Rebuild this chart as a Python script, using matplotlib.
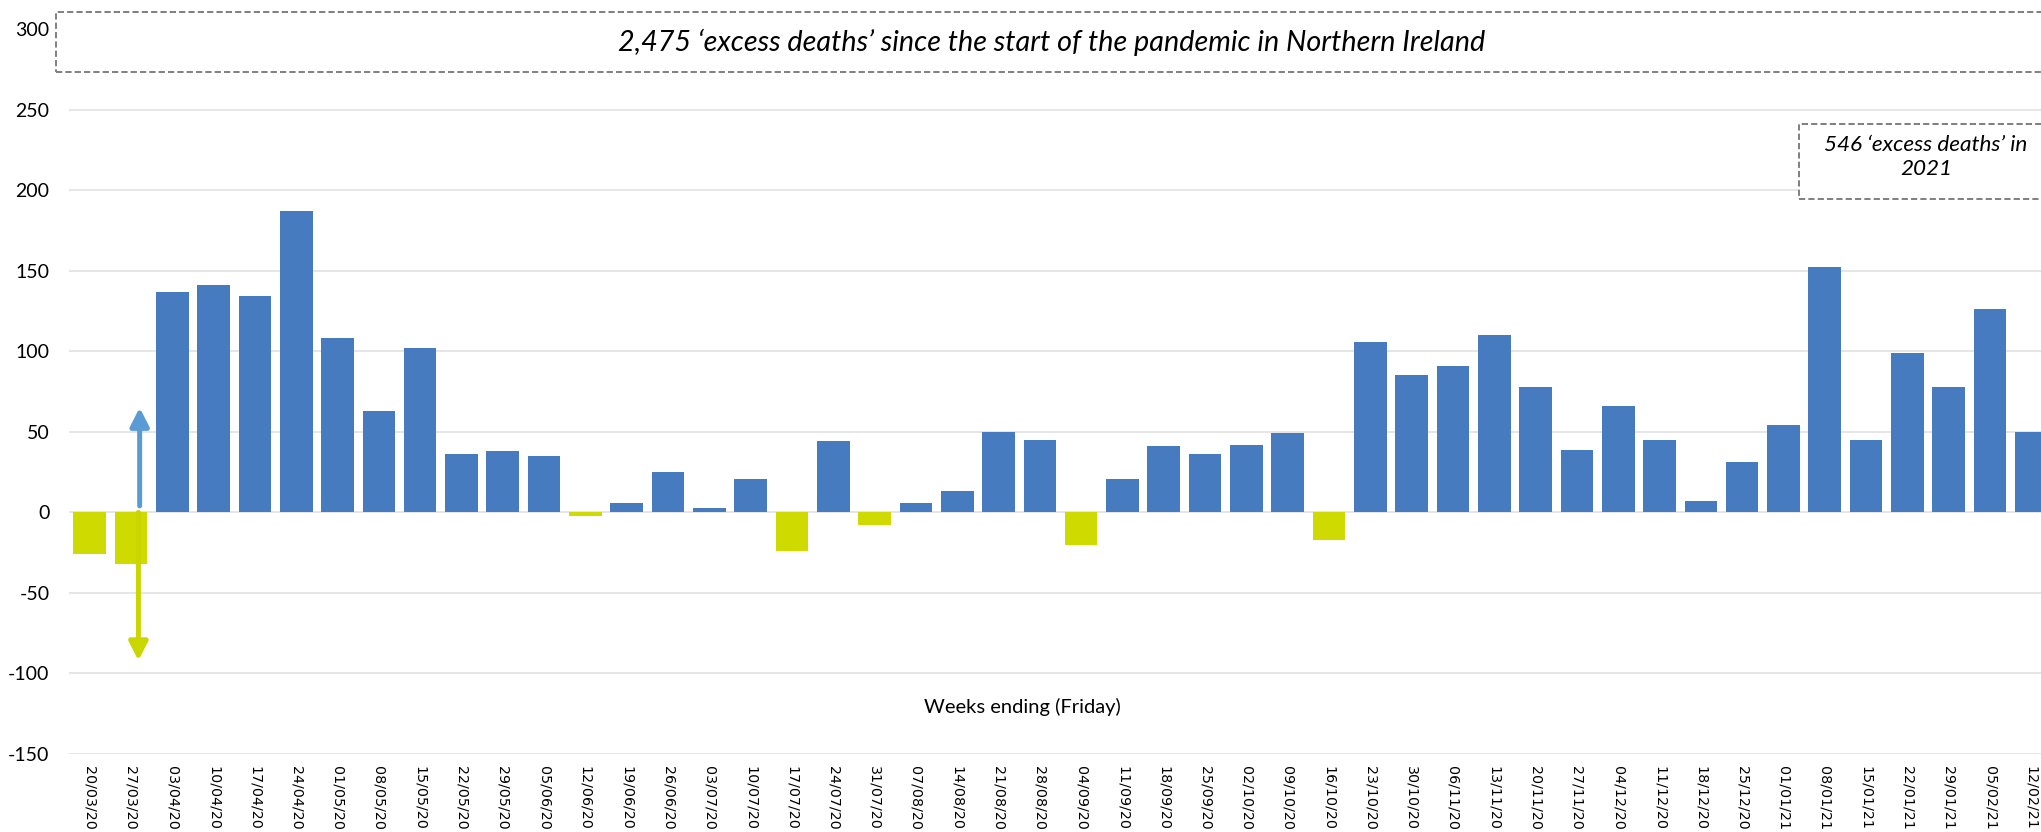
import matplotlib
matplotlib.use("Agg")
import matplotlib.pyplot as plt
from matplotlib.patches import Rectangle

weeks = ["20/03/20", "27/03/20", "03/04/20", "10/04/20", "17/04/20", "24/04/20",
         "01/05/20", "08/05/20", "15/05/20", "22/05/20", "29/05/20", "05/06/20",
         "12/06/20", "19/06/20", "26/06/20", "03/07/20", "10/07/20", "17/07/20",
         "24/07/20", "31/07/20", "07/08/20", "14/08/20", "21/08/20", "28/08/20",
         "04/09/20", "11/09/20", "18/09/20", "25/09/20", "02/10/20", "09/10/20",
         "16/10/20", "23/10/20", "30/10/20", "06/11/20", "13/11/20", "20/11/20",
         "27/11/20", "04/12/20", "11/12/20", "18/12/20", "25/12/20", "01/01/21",
         "08/01/21", "15/01/21", "22/01/21", "29/01/21", "05/02/21", "12/02/21"]
excess = [-26, -32, 137, 141, 134, 187, 108, 63, 102, 36, 38, 35,
          -2, 6, 25, 3, 21, -24, 44, -8, 6, 13, 50, 45,
          -20, 21, 41, 36, 42, 49, -17, 106, 85, 91, 110, 78,
          39, 66, 45, 7, 31, 54, 152, 45, 99, 78, 126, 50]
y_ticks = [-150, -100, -50, 0, 50, 100, 150, 200, 250, 300]

title_text = "2,475 \u2018excess deaths\u2019 since the start of the pandemic in Northern Ireland"
note_text = "546 \u2018excess deaths\u2019 in\n2021"

POS = "#467CBF"
NEG = "#CFDB00"

W, H = 2041, 832
fig = plt.figure(figsize=(W / 100, H / 100), dpi=100)
# axes runs a little past the right edge, like the cropped original
ax = fig.add_axes([69 / W, 1 - 754 / H, (2052 - 69) / W, (754 - 29) / H])

x = list(range(len(weeks)))
colors = [POS if v >= 0 else NEG for v in excess]
ax.bar(x, excess, width=0.79, color=colors, zorder=3)

ax.set_xlim(-0.5, len(weeks) - 0.5)
ax.set_ylim(-150, 300)
ax.set_yticks(y_ticks)
ax.set_yticklabels([str(t) for t in y_ticks], fontsize=14, family="Lato")
ax.set_xticks(x)
ax.set_xticklabels(weeks, rotation=-90, fontsize=10.3, family="DejaVu Sans",
                   va="top", ha="center")
ax.tick_params(axis="both", length=0)
ax.tick_params(axis="y", pad=14)
ax.tick_params(axis="x", pad=9)
ax.grid(axis="y", color="#E6E6E6", lw=1.4, zorder=0)
for s in ax.spines.values():
    s.set_visible(False)

# arrows near the start
ax.annotate("", xy=(1.21, 65), xytext=(1.21, 4),
            arrowprops=dict(arrowstyle="-|>,head_length=0.55,head_width=0.28",
                            color="#5B9BD5", lw=3.6, mutation_scale=20,
                            shrinkA=0, shrinkB=0), zorder=4)
ax.annotate("", xy=(1.18, -92), xytext=(1.18, 0),
            arrowprops=dict(arrowstyle="-|>,head_length=0.55,head_width=0.28",
                            color="#C9D600", lw=3.6, mutation_scale=20,
                            shrinkA=0, shrinkB=0), zorder=4)

fig.text(1022 / W, 1 - 707 / H, "Weeks ending (Friday)", ha="center", va="center",
         fontsize=14.5, family="Lato")

# dashed boxes
box_style = dict(facecolor="white", edgecolor="#7F7F7F", lw=1.4,
                 linestyle=(0, (3.2, 1.6)), transform=fig.transFigure, zorder=5)
fig.patches.append(Rectangle((56 / W, 1 - 72 / H), (2060 - 56) / W, 60 / H, **box_style))
fig.patches.append(Rectangle((1799 / W, 1 - 199 / H), (2060 - 1799) / W, 75 / H, **box_style))

fig.text(1052 / W, 1 - 42 / H, title_text, ha="center", va="center",
         fontsize=20.7, style="italic", family="Lato", zorder=6)
fig.text(1926 / W, 1 - 157 / H, note_text, ha="center", va="center",
         fontsize=16.2, style="italic", family="Lato", linespacing=1.2, zorder=6)

fig.savefig("out.png", dpi=100)
